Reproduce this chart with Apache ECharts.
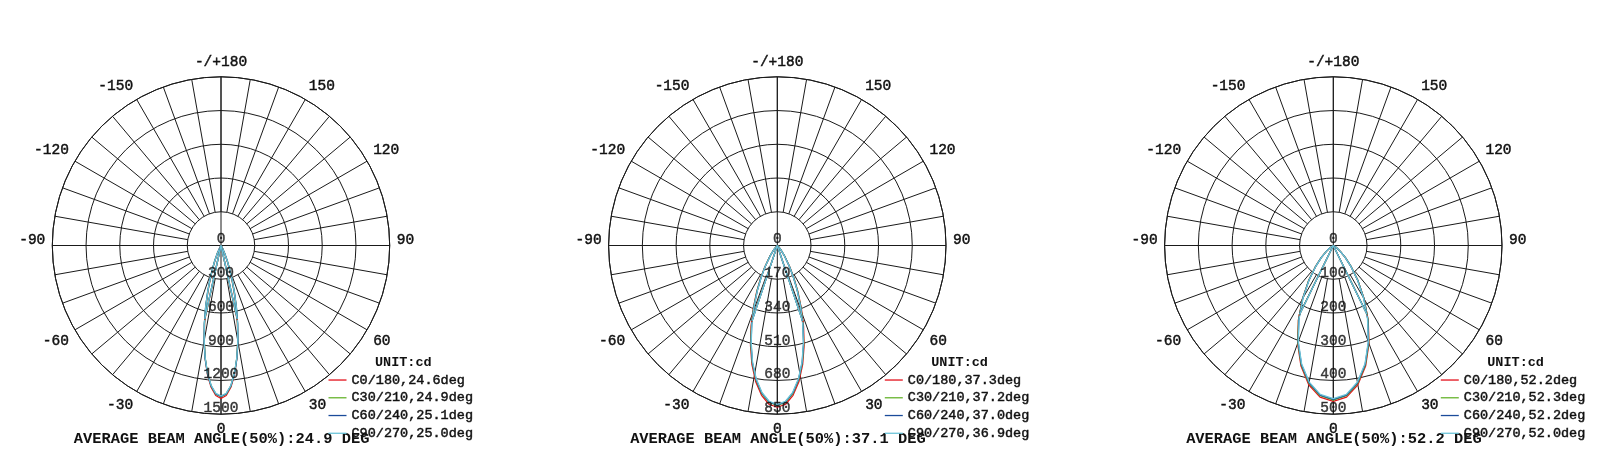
<!DOCTYPE html>
<html>
<head>
<meta charset="utf-8">
<script src="https://cdn.jsdelivr.net/npm/echarts@6/dist/echarts.min.js"></script>
<style>
html,body{margin:0;padding:0;background:#ffffff;}
#chart{width:1615px;height:475px;}
</style>
</head>
<body>
<div id="chart"></div>
<script>
// ---------- data ----------
const planeNames = ['C0/180', 'C30/210', 'C60/240', 'C90/270'];

// Chart 1 : gamma angles (deg) and intensity (cd), symmetric about 0
const chart1Gamma = [0, 2, 4, 6, 8, 10, 12, 14, 16, 18, 20, 22, 25, 30, 35, 40];
const chart1C0  = [1360, 1335, 1263, 1153, 1014, 859, 701, 551, 416, 302, 210, 141, 71, 18, 3, 0];
const chart1C30 = [1345, 1322, 1253, 1146, 1010, 860, 706, 560, 426, 312, 220, 149, 77, 20, 4, 0];
const chart1C60 = [1342, 1320, 1252, 1148, 1014, 866, 714, 568, 434, 320, 226, 154, 80, 21, 4, 0];
const chart1C90 = [1338, 1316, 1248, 1143, 1009, 862, 710, 564, 430, 316, 223, 151, 78, 20, 4, 0];
const chart1Beam = [24.6, 24.9, 25.1, 25.0];
const chart1Average = '24.9';
const chart1RadialTicks = [0, 300, 600, 900, 1200, 1500];

// Chart 2
const chart2Gamma = [0, 3, 6, 9, 12, 15, 18, 21, 24, 27, 30, 35, 40, 45, 50, 60];
const chart2C0  = [815, 801, 759, 695, 614, 522, 428, 337, 255, 185, 128, 63, 27, 9, 3, 0];
const chart2C30 = [805, 791, 750, 686, 606, 515, 421, 332, 251, 182, 126, 62, 26, 9, 3, 0];
const chart2C60 = [803, 789, 747, 683, 603, 511, 417, 327, 246, 178, 122, 59, 25, 8, 3, 0];
const chart2C90 = [800, 786, 744, 680, 600, 508, 414, 324, 244, 176, 121, 58, 24, 8, 2, 0];
const chart2Beam = [37.3, 37.2, 37.0, 36.9];
const chart2Average = '37.1';
const chart2RadialTicks = [0, 170, 340, 510, 680, 850];

// Chart 3
const chart3Gamma = [0, 5, 10, 15, 20, 25, 30, 35, 40, 45, 50, 55, 60, 70];
const chart3C0  = [462, 451, 419, 370, 309, 245, 183, 128, 83, 50, 27, 13, 5, 0];
const chart3C30 = [458, 447, 415, 367, 307, 244, 182, 128, 83, 50, 27, 13, 5, 0];
const chart3C60 = [456, 445, 413, 365, 305, 242, 181, 126, 82, 49, 26, 13, 5, 0];
const chart3C90 = [454, 443, 411, 363, 303, 240, 179, 125, 81, 48, 26, 12, 5, 0];
const chart3Beam = [52.2, 52.3, 52.2, 52.0];
const chart3Average = '52.2';
const chart3RadialTicks = [0, 100, 200, 300, 400, 500];

// ---------- styling / layout ----------
const planeColors = ['#e3111c', '#66b42d', '#1b4b9a', '#6cc4d8'];
const GRID = '#1a1a1a';
const TEXT = '#111111';
const FONT = '"Liberation Mono", "Courier New", monospace';
const R = 168.7, CY = 245.5;
const TB = 0.45; // slight text stroke to match heavier reference glyphs

const charts = [
  {cx: 221.0, gamma: chart1Gamma, planes: [chart1C0, chart1C30, chart1C60, chart1C90], beams: chart1Beam, avg: chart1Average, ticks: chart1RadialTicks},
  {cx: 777.3, gamma: chart2Gamma, planes: [chart2C0, chart2C30, chart2C60, chart2C90], beams: chart2Beam, avg: chart2Average, ticks: chart2RadialTicks},
  {cx: 1333.3, gamma: chart3Gamma, planes: [chart3C0, chart3C30, chart3C60, chart3C90], beams: chart3Beam, avg: chart3Average, ticks: chart3RadialTicks}
];

function mirror(gamma, vals) {
  const out = [];
  for (let i = gamma.length - 1; i > 0; i--) out.push([vals[i], -gamma[i]]);
  for (let i = 0; i < gamma.length; i++) out.push([vals[i], gamma[i]]);
  return out;
}

function angleLabel(v) {
  if (v === 180) return '';
  if (v === -180) return '-/+180';
  if (v % 30 !== 0) return '';
  if (v === 90 || v === -90) return '{s|' + v + '}';
  if (v === 0) return '{b|0}';
  return String(v);
}

const option = {
  animation: false,
  backgroundColor: '#ffffff',
  polar: [], angleAxis: [], radiusAxis: [], series: [], legend: [], graphic: []
};

charts.forEach(function (c) {
  const step = c.ticks[1] - c.ticks[0];
  const max = c.ticks[c.ticks.length - 1];
  const pa = option.polar.length;
  option.polar.push({center: [c.cx, CY], radius: [0, R]});
  option.polar.push({center: [c.cx, CY], radius: [R * step / max, R]});

  // polar A : data, rings, crosshair
  option.angleAxis.push({
    polarIndex: pa, type: 'value', min: -180, max: 180, interval: 90,
    startAngle: 90, clockwise: false,
    axisLine: {show: true, lineStyle: {color: GRID, width: 1}},
    axisTick: {show: false}, axisLabel: {show: false},
    splitLine: {show: true, lineStyle: {color: GRID, width: 1}}
  });
  option.radiusAxis.push({
    polarIndex: pa, type: 'value', min: 0, max: max, interval: step,
    axisLine: {show: false}, axisTick: {show: false}, axisLabel: {show: false},
    splitLine: {show: true, lineStyle: {color: GRID, width: 1}}
  });
  // polar B : spokes from the inner circle, angle labels
  option.angleAxis.push({
    polarIndex: pa + 1, type: 'value', min: -180, max: 180, interval: 10,
    startAngle: 90, clockwise: false,
    axisLine: {show: false}, axisTick: {show: false},
    axisLabel: {
      show: true, margin: 7, color: TEXT, fontFamily: FONT, fontSize: 14.5,
      textBorderColor: TEXT, textBorderWidth: TB,
      formatter: angleLabel,
      rich: {
        s: {fontFamily: FONT, fontSize: 14.5, color: TEXT, textBorderColor: TEXT, textBorderWidth: TB, padding: [0, 0, 10, 0]},
        b: {fontFamily: FONT, fontSize: 14.5, color: TEXT, textBorderColor: TEXT, textBorderWidth: TB, padding: [0, 0, 4, 0]}
      }
    },
    splitLine: {show: true, lineStyle: {color: GRID, width: 1}}
  });
  option.radiusAxis.push({
    polarIndex: pa + 1, type: 'value', min: step, max: max, interval: step,
    axisLine: {show: false}, axisTick: {show: false}, axisLabel: {show: false},
    splitLine: {show: false}
  });

  const names = [];
  c.planes.forEach(function (vals, k) {
    const name = planeNames[k] + ',' + c.beams[k].toFixed(1) + 'deg';
    names.push(name);
    option.series.push({
      type: 'line', name: name, coordinateSystem: 'polar', polarIndex: pa,
      data: mirror(c.gamma, vals), symbol: 'none', showSymbol: false, silent: true, z: 3,
      lineStyle: {color: planeColors[k], width: 1.3},
      itemStyle: {color: planeColors[k]}
    });
  });
  // 50% beam-angle lines
  c.planes.forEach(function (vals, k) {
    const half = vals[0] / 2, hb = c.beams[k] / 2;
    option.series.push({
      type: 'line', name: 'beam-' + k, coordinateSystem: 'polar', polarIndex: pa,
      data: [[half, -hb], [0, 0], [half, hb]], symbol: 'none', showSymbol: false, silent: true, z: 3,
      lineStyle: {color: planeColors[k], width: 1.3},
      itemStyle: {color: planeColors[k]}
    });
  });
  // radial tick labels
  option.series.push({
    type: 'scatter', coordinateSystem: 'polar', polarIndex: pa, silent: true, z: 4,
    data: c.ticks.map(function (t) { return [t, 0]; }),
    symbolSize: 0, itemStyle: {color: 'rgba(0,0,0,0)'},
    label: {
      show: true, position: 'inside', offset: [0, -6],
      formatter: function (p) { return String(p.value[0]); },
      color: TEXT, fontFamily: FONT, fontSize: 14.5,
      textBorderColor: TEXT, textBorderWidth: TB
    }
  });

  option.legend.push({
    orient: 'vertical', left: c.cx + 107.5, top: CY + 127.3, padding: 0,
    itemWidth: 18, itemHeight: 14, itemGap: 3.3,
    icon: 'path://M0,0H18V1.3H0Z', selectedMode: false,
    data: names,
    textStyle: {fontFamily: FONT, fontSize: 13.5, color: TEXT, lineHeight: 14,
      textBorderColor: TEXT, textBorderWidth: TB}
  });

  option.graphic.push({
    type: 'text', x: c.cx + 182.3, y: CY + 116.7, silent: true,
    style: {text: 'UNIT:cd', font: 'bold 13.5px ' + FONT, fill: TEXT,
      align: 'center', verticalAlign: 'middle', textAlign: 'center', textVerticalAlign: 'middle'}
  });
  option.graphic.push({
    type: 'text', x: c.cx + 0.6, y: 439.5, silent: true,
    style: {text: 'AVERAGE BEAM ANGLE(50%):' + c.avg + ' DEG', font: 'bold 15.4px ' + FONT, fill: TEXT,
      align: 'center', verticalAlign: 'middle', textAlign: 'center', textVerticalAlign: 'middle'}
  });
});

const chart = echarts.init(document.getElementById('chart'), null, {renderer: 'canvas'});
chart.setOption(option);
</script>
</body>
</html>
